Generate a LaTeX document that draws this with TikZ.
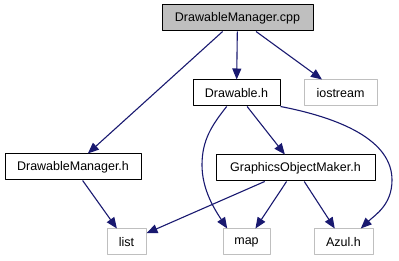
\documentclass[tikz,border=0pt]{standalone}
\usepackage{fontspec}
\setmainfont{Liberation Sans}
\usetikzlibrary{arrows.meta}
\definecolor{edgeblue}{HTML}{191970}
\definecolor{extgray}{HTML}{BFBFBF}
\begin{document}
\begin{tikzpicture}[x=1pt,y=-1pt,line join=round,font=\fontsize{12.5}{14}\selectfont,
    file/.style={draw=black,line width=1pt,inner sep=0pt,minimum height=26pt},
    ext/.style={file,draw=extgray},
    dep/.style={draw=edgeblue,line width=1.1pt,-{Triangle[length=11pt,width=9pt]}}]
    \useasboundingbox (0,0) rectangle (399,261);
    % files of the project
    \node[file,fill=extgray,minimum width=151pt] (cpp) at (237.5,18) {DrawableManager.cpp};
    \node[file,minimum width=87pt] (drw) at (236.5,93) {Drawable.h};
    \node[file,minimum width=136pt] (dmh) at (73,167) {DrawableManager.h};
    \node[file,minimum width=159pt] (gom) at (295.5,168) {GraphicsObjectMaker.h};
    % headers from outside
    \node[ext,minimum width=73pt] (ios) at (340.5,93) {iostream};
    \node[ext,minimum width=39pt] (list) at (126.5,242) {list};
    \node[ext,minimum width=47pt] (map) at (246.5,242) {map};
    \node[ext,minimum width=59pt] (azul) at (343.5,242) {Azul.h};
    % includes
    \foreach \a/\b in {cpp/dmh,cpp/drw,cpp/ios,drw/gom,dmh/list,gom/list,gom/map,gom/azul}
        \draw[dep] (\a) -- (\b);
    \draw[dep] (drw.234) .. controls (212,125) and (202,140) .. (202,165)
        .. controls (202,190) and (215,210) .. (map.145);
    \draw[dep] (drw.south east) .. controls (340,118) and (392,140) .. (392,180)
        .. controls (392,205) and (375,215) .. (azul.38);
\end{tikzpicture}
\end{document}
